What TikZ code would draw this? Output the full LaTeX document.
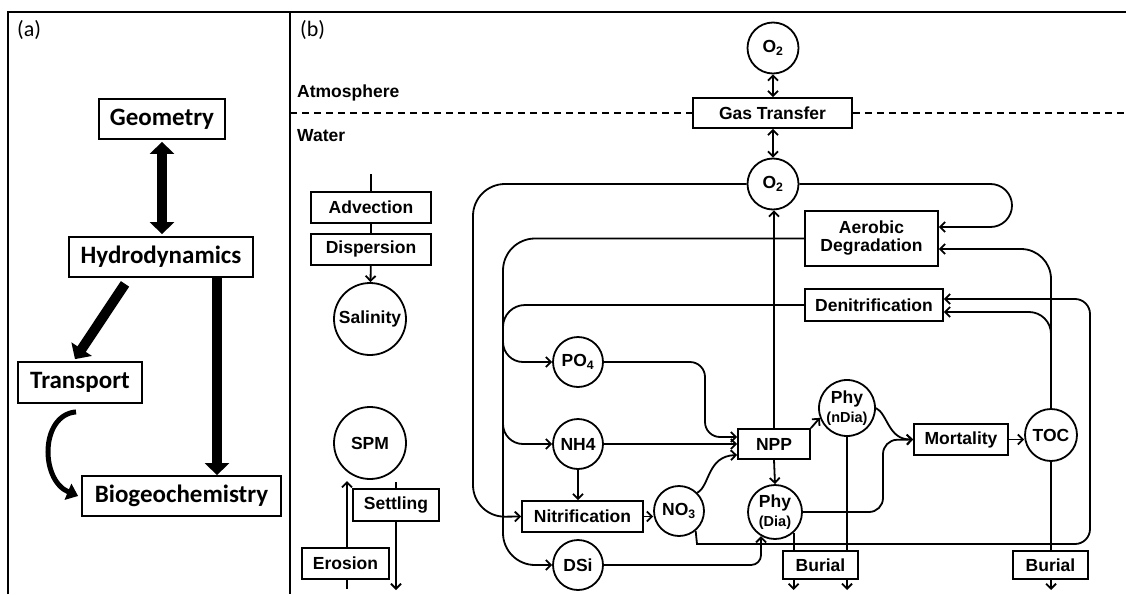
\documentclass[tikz,border=0pt]{standalone}
\usepackage{fontspec}
\setmainfont{Liberation Sans}
\newfontfamily\calibri{Carlito}
\usepackage{tikz}
\usetikzlibrary{arrows.meta}
\usetikzlibrary{positioning}
\newcommand{\bfont}{\bfseries\fontsize{17.5}{18}\selectfont}
\newcommand{\afont}{\calibri\bfseries\fontsize{25}{28}\selectfont}
\newcommand{\smallf}{\fontsize{14.5}{15}\selectfont}
\tikzset{
  link/.style={line width=1.8pt},
  procbox/.style={draw, line width=1.8pt, fill=white, inner sep=0pt, minimum height=31pt, font=\bfont},
  pool/.style={draw, circle, line width=1.8pt, fill=white, inner sep=0pt, minimum size=50pt, font=\bfont},
  bigbox/.style={draw, line width=1.8pt, inner sep=0pt, minimum height=40pt, font=\afont},
  bigarrow/.style={line width=10pt, -{Triangle[length=12pt,width=24pt]}},
  panellabel/.style={anchor=west, inner sep=0pt, font=\calibri\fontsize{22}{24}\selectfont},
  layerlabel/.style={anchor=west, inner sep=0pt, font=\bfont},
}

\begin{document}
\begin{tikzpicture}[x=1pt, y=-1pt, >={Straight Barb[length=5pt,width=10pt]}]%
        \useasboundingbox (0,0) rectangle (1126,594);%
        % frame
        \draw[line width=1.8pt] (8,594) -- (8,12) -- (1126,12);%
        \draw[line width=1.8pt] (290,12) -- (290,594);%
        % panel (a)
        \node[panellabel] (lbla) at (17,30) {(a)};%
        \node[bigbox, minimum width=126pt] (geom) at (162,119) {Geometry};%
        \node[bigbox, minimum width=184pt] (hydro) at (161,257) {Hydrodynamics};%
        \node[bigbox, minimum width=124pt, minimum height=41pt] (transp) at (80,382.5) {Transport};%
        \node[bigbox, minimum width=199pt] (biogeo) at (181.5,496) {Biogeochemistry};%
        \draw[bigarrow, {Triangle[length=12pt,width=24pt]}-{Triangle[length=12pt,width=24pt]}, shorten <=2pt, shorten >=2pt] (geom.south) -- (geom.south |- hydro.north);%
        \draw[bigarrow] ([shift={(-36,6)}]hydro.south) -- ([shift={(-5,-2)}]transp.north);%
        \draw[bigarrow] ([xshift=56pt]hydro.south) -- ([xshift=56pt]hydro.south |- biogeo.north);%
        \draw[line width=5pt, -{Triangle[length=11pt,width=17pt]}] ([shift={(-4,8)}]transp.south) .. controls (40,415) and (40,480) .. ([xshift=-3pt]biogeo.west);%
        % panel (b)
        \node[panellabel] (lblb) at (300,30) {(b)};%
        \node[layerlabel] (atmo) at (297,93) {Atmosphere};%
        \node[layerlabel] (water) at (297,136) {Water};%
        \node[pool, minimum size=51pt] (o2a) at (773,48) {O\textsubscript{2}};%
        \node[procbox, minimum width=159pt, minimum height=30pt] (gas) at (772.5,113) {Gas Transfer};%
        \node[pool, minimum size=51pt] (o2w) at (773,184) {O\textsubscript{2}};%
        \coordinate (dashl) at (290,113);%
        \coordinate (dashr) at (1126,113);%
        \draw[line width=1.2pt, dash pattern=on 7pt off 5pt] (dashl) -- (gas.west);%
        \draw[line width=1.2pt, dash pattern=on 7pt off 5pt] (gas.east) -- (dashr);%
        \draw[link, <->] (o2a.south) -- (o2a.south |- gas.north);%
        \draw[link, <->] (o2a.south |- gas.south) -- (o2w.north);%
        % transport column
        \coordinate (advin) at (371,174);%
        \node[procbox, minimum width=120pt] (adv) at (371,207.5) {Advection};%
        \node[procbox, minimum width=120pt, below=9pt of adv] (disp) {Dispersion};%
        \node[pool, minimum size=72pt] (sal) at (370,319) {Salinity};%
        \draw[link] (advin) -- (adv);%
        \draw[link] (adv) -- (disp);%
        \draw[link, ->] (disp) -- (sal);%
        \node[pool, minimum size=72pt] (spm) at (370,443) {SPM};%
        \node[procbox, minimum width=86pt, minimum height=32pt] (settl) at (396,505) {Settling};%
        \node[procbox, minimum width=87pt] (eros) at (345.5,563.5) {Erosion};%
        \coordinate (erosin) at (347,589);%
        \coordinate (erosout) at (347,481);%
        \draw[link] (erosin) -- (erosin |- eros.south);%
        \draw[link, ->] (erosin |- eros.north) -- (erosout);%
        \coordinate (settlin) at (396,482);%
        \coordinate (settlout) at (396,590);%
        \draw[link] (settlin) -- (settl);%
        \draw[link, ->] (settl) -- (settlout);%
        % biogeochemistry
        \node[procbox, minimum width=133pt, minimum height=55pt, align=center] (aero) at (871.5,238.5) {Aerobic\\Degradation};%
        \node[procbox, minimum width=138pt, minimum height=32pt] (denit) at (874,305) {Denitrification};%
        \node[pool] (po4) at (578,362) {PO\textsubscript{4}};%
        \node[pool] (nh4) at (578,444) {NH4};%
        \node[procbox, minimum width=121pt] (nitr) at (582.5,516.5) {Nitrification};%
        \node[pool] (no3) at (679,511) {NO\textsubscript{3}};%
        \node[pool] (dsi) at (578,565) {DSi};%
        \node[procbox, minimum width=72pt, minimum height=30pt] (npp) at (774,444) {NPP};%
        \node[pool, minimum size=56pt, align=center] (phyn) at (847,408) {Phy\\[1pt]{\smallf (nDia)}};%
        \node[pool, minimum size=54pt, align=center] (phyd) at (775,512) {Phy\\[1pt]{\smallf (Dia)}};%
        \node[procbox, minimum width=94pt] (mort) at (961,439.5) {Mortality};%
        \node[pool, minimum size=52pt] (toc) at (1051,435) {TOC};%
        \node[procbox, minimum width=75pt, minimum height=28pt] (bur1) at (820.5,565) {Burial};%
        \node[procbox, minimum width=75pt, minimum height=28pt] (bur2) at (1050.5,565) {Burial};%
        % oxygen and organic matter loops
        \draw[link, ->, rounded corners=32pt] (o2w.west) -- (473,184) -- (473,517) -- (nitr.west);%
        \draw[link, ->, rounded corners=32pt] (aero.west) -- (503,238.5) -- (503,565) -- (dsi.west);%
        \draw[link, rounded corners=22pt] (denit.west) -- (503,305) -- (503,345);%
        \coordinate (jpo4) at (503,335);%
        \coordinate (jnh4) at (503,418);%
        \draw[link, ->, rounded corners=20pt] (jpo4) |- (po4.west);%
        \draw[link, ->, rounded corners=20pt] (jnh4) |- (nh4.west);%
        \draw[link, ->, rounded corners=21.5pt] (o2w.east) -- (1012,184) -- (1012,227) -- ([yshift=11.5pt]aero.east);%
        \draw[link, ->, rounded corners=30pt] (toc.north) -- (1051,249) -- ([yshift=-10.5pt]aero.east);%
        \coordinate (jtoc) at (1051,340);%
        \draw[link, ->, rounded corners=22pt] (jtoc) |- ([yshift=-7pt]denit.east);%
        \draw[link, ->, rounded corners=15pt] (no3.-50) .. controls (697,544) .. (712,544) -- (1090,544) -- (1090,299) -- ([yshift=6pt]denit.east);%
        % nutrients to primary production
        \draw[link, ->, rounded corners=15pt] (po4.east) -- (705,362) -- (705,437) -- ([yshift=7pt]npp.west);%
        \draw[link, ->] (nh4.east) -- (npp.west);%
        \draw[link, ->] (no3.45) .. controls (710,486) and (707,456) .. ([yshift=-11pt]npp.west);%
        \draw[link, ->] (nh4.south) -- (nh4.south |- nitr.north);%
        \draw[link, ->] (nitr.east) -- (nitr.east -| no3.west);%
        \draw[link, ->, rounded corners=10pt] (dsi.east) -| (phyd.-120);%
        \draw[link, ->] (npp.north) -- (npp.north |- o2w.south);%
        \draw[link, ->] (npp.south) -- (phyd.north);%
        \draw[link, ->] (npp.north east) -- (phyn.200);%
        % mortality and burial
        \draw[link, ->] (phyn.east) .. controls (888,414) and (888,440) .. (mort.west);%
        \draw[link, ->, rounded corners=14pt] (phyd.east) -- (883,512) -- (883,440) -- (mort.west);%
        \draw[link, ->] (mort.east) -- (mort.east -| toc.west);%
        \coordinate (burout) at (793,590);%
        \draw[link] (phyd.-48) -- (phyd.-48 |- bur1.north);%
        \draw[link, ->] (phyd.-48 |- bur1.south) -- (phyd.-48 |- burout);%
        \draw[link] (phyn.south) -- (phyn.south |- bur1.north);%
        \draw[link, ->] (phyn.south |- bur1.south) -- (phyn.south |- burout);%
        \draw[link] (toc.south) -- (toc.south |- bur2.north);%
        \draw[link, ->] (toc.south |- bur2.south) -- (toc.south |- burout);%
\end{tikzpicture}
\end{document}
